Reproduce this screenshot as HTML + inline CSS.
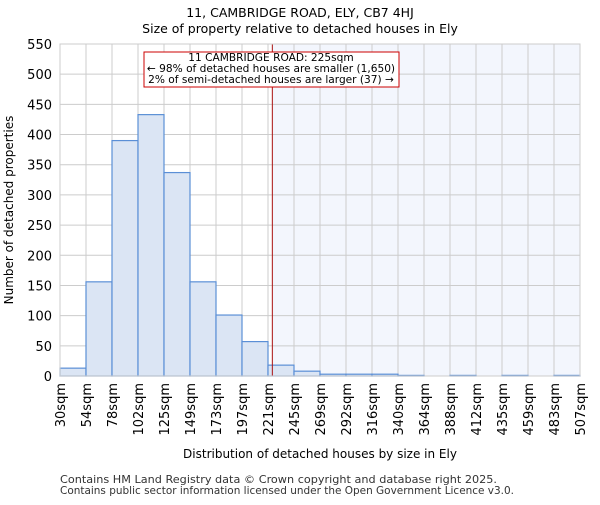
<!DOCTYPE html>
<html><head><meta charset="utf-8"><style>
body{margin:0;background:#fff;font-family:"Liberation Sans","DejaVu Sans",sans-serif}
svg text{font-family:"DejaVu Sans","Liberation Sans",sans-serif}
</style></head><body>
<svg id="chart" width="600" height="500" xmlns="http://www.w3.org/2000/svg">
<text x="300" y="17" text-anchor="middle" font-size="12.5">11, CAMBRIDGE ROAD, ELY, CB7 4HJ</text>
<text x="300" y="33" text-anchor="middle" font-size="12.5">Size of property relative to detached houses in Ely</text>
<g id="plot"></g>
<text transform="translate(13,210) rotate(-90)" text-anchor="middle" font-size="12">Number of detached properties</text>
<text x="320" y="458" text-anchor="middle" font-size="12">Distribution of detached houses by size in Ely</text>
<text x="60" y="483" font-size="10.8" fill="#333" textLength="437" lengthAdjust="spacingAndGlyphs">Contains HM Land Registry data © Crown copyright and database right 2025.</text>
<text x="60" y="494" font-size="10.8" fill="#333" textLength="454" lengthAdjust="spacingAndGlyphs">Contains public sector information licensed under the Open Government Licence v3.0.</text>
</svg>
<script>
const binEdges=[30,54,78,102,125,149,173,197,221,245,269,292,316,340,364,388,412,435,459,483,507];
const counts=[13,156,390,433,337,156,101,57,18,8,3,3,3,1,0,1,0,1,0,1];
const yTicks=[0,50,100,150,200,250,300,350,400,450,500,550];
const markerValue=225;
const NS="http://www.w3.org/2000/svg";
const L=60,R=580,T=44,B=376,YMAX=550,N=counts.length;
const xIdx=i=>L+(R-L)*i/N;
const xVal=v=>{for(let i=0;i<N;i++){if(v<=binEdges[i+1])return xIdx(i+(v-binEdges[i])/(binEdges[i+1]-binEdges[i]));}return R;};
const y=v=>B-(B-T)*v/YMAX;
const g=document.getElementById('plot');
function mk(tag,a,p){const e=document.createElementNS(NS,tag);for(const k in a)e.setAttribute(k,a[k]);(p||g).appendChild(e);return e;}
const mx=xVal(markerValue);
const shade=mk('rect',{x:mx,y:T,width:R-mx,height:B-T,fill:'#f3f6fd'});


yTicks.forEach(t=>{
 const gl=mk('line',{x1:L,x2:R,y1:y(t),y2:y(t),stroke:'#ccc','stroke-width':1});
 
 
 const tl=mk('text',{x:L-8,y:y(t)+5,'text-anchor':'end','font-size':13});
 tl.textContent=t;
 
 
});
binEdges.forEach((e,i)=>{
 const gl=mk('line',{x1:xIdx(i),x2:xIdx(i),y1:T,y2:B,stroke:'#ccc','stroke-width':1});
 
 
 const tl=mk('text',{transform:`translate(${xIdx(i)+5},383) rotate(-90)`,'text-anchor':'end','font-size':13});
 tl.textContent=e+'sqm';
 
 
});
counts.forEach((c,i)=>{
 const b=mk('rect',{x:xIdx(i),y:y(c),width:xIdx(i+1)-xIdx(i),height:B-y(c),fill:'#dbe5f4',stroke:'#5b8fd6','stroke-width':1.2});
 
 
});
const ml=mk('line',{x1:mx,x2:mx,y1:T,y2:B,stroke:'#aa1111','stroke-width':1});


const ab=mk('rect',{x:144,y:52,width:255,height:35,fill:'#fff',stroke:'#cc0000','stroke-width':1});


["11 CAMBRIDGE ROAD: 225sqm","← 98% of detached houses are smaller (1,650)","2% of semi-detached houses are larger (37) →"].forEach((s,i)=>{
 const t=mk('text',{x:271,y:61+i*11,'text-anchor':'middle','font-size':10.6});
 t.textContent=s;
 
 
});
const fr=mk('rect',{x:L,y:T,width:R-L,height:B-T,fill:'none',stroke:'#ccc'});


</script>
</body></html>
